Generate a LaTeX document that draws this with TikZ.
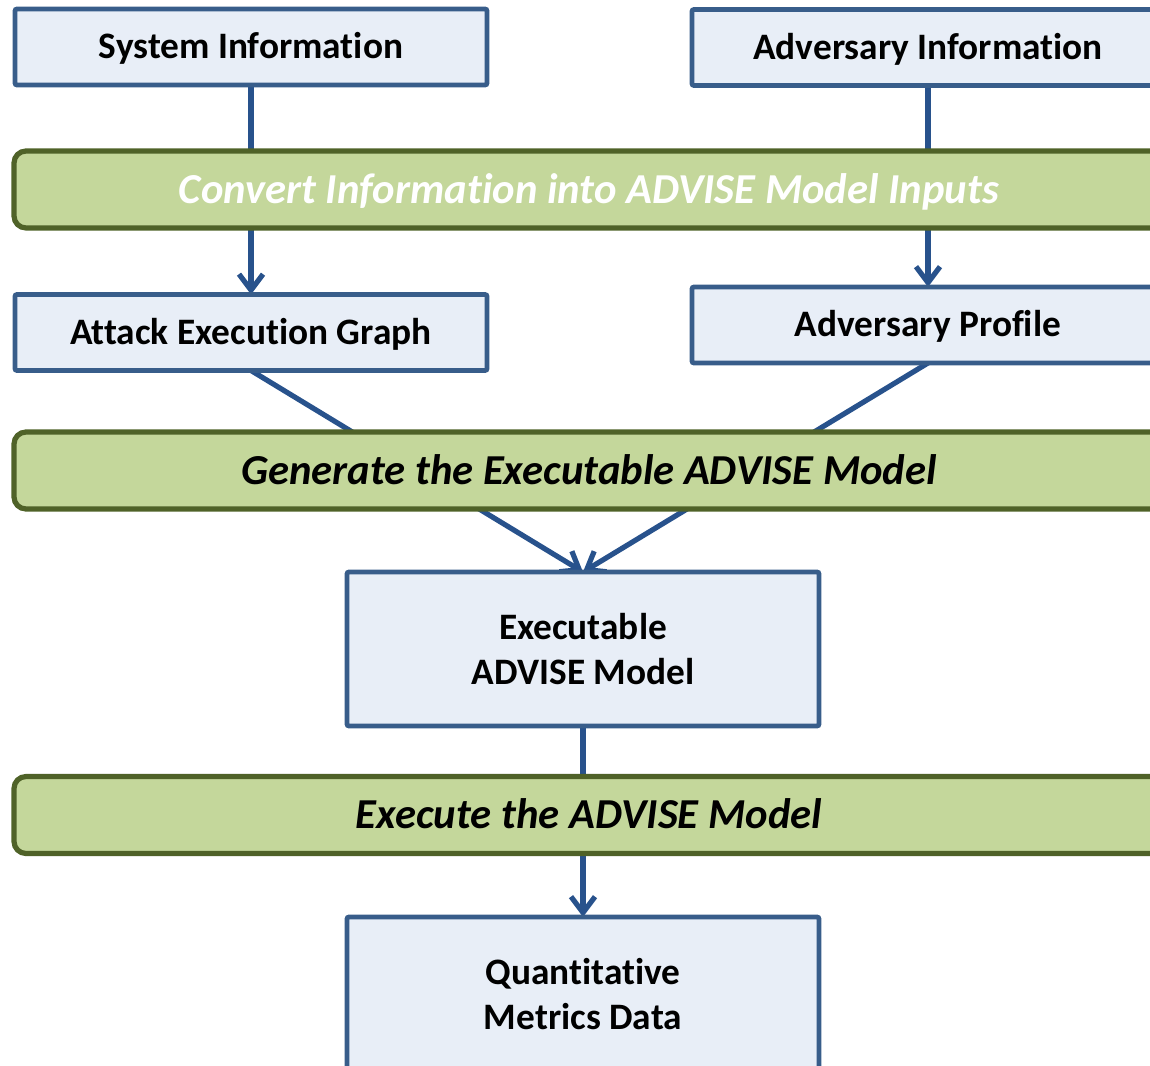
\documentclass[tikz,border=0pt]{standalone}
\usepackage{fontspec}
\setmainfont{Carlito}[RawFeature={-liga;-clig;-dlig}]
\usetikzlibrary{arrows.meta}
\pgfdeclarelayer{background}
\pgfsetlayers{background,main}
\definecolor{boxfill}{RGB}{232,238,247}
\definecolor{boxline}{RGB}{56,93,138}
\definecolor{barfill}{RGB}{196,215,155}
\definecolor{barline}{RGB}{79,98,40}
\definecolor{conn}{RGB}{40,82,140}
\tikzset{
  boxbase/.style={draw=boxline, fill=boxfill, line width=3.6pt, rounded corners=1.5pt,
    minimum width=354pt, inner sep=0pt, outer sep=0pt,
    font=\fontsize{28}{34}\selectfont\bfseries},
  infobox/.style={boxbase, minimum height=57pt, text height=18pt, text depth=0pt},
  tallbox/.style={boxbase, minimum height=115.5pt, align=center},
  stagebar/.style={draw=barline, fill=barfill, line width=3.9pt, rounded corners=9pt,
    minimum width=862.5pt, minimum height=57.75pt, inner sep=0pt, outer sep=0pt,
    text height=20.6pt, text depth=0pt,
    font=\fontsize{32}{36}\selectfont\bfseries\itshape},
  conn/.style={draw=conn, line width=3.9pt, line cap=round,
    -{Straight Barb[length=12pt,width=18pt,line width=3.9pt]}}
}
\begin{document}
\begin{tikzpicture}[x=0.75pt,y=-0.75pt]
\useasboundingbox (0,0) rectangle (1150,1066);
\node[infobox] (sys) at (251,47) {System Information};
\node[infobox] (adv) at (928,47.5) {Adversary Information};
\node[stagebar, text=white] (conv) at (589,189.5) {Convert Information into ADVISE Model Inputs};
\node[infobox] (aeg) at (251,332.5) {Attack Execution Graph};
\node[infobox] (prof) at (928,325) {Adversary Profile};
\node[stagebar] (gen) at (589,470.5) {Generate the Executable ADVISE Model};
\node[tallbox] (exec) at (583,649) {Executable\\ADVISE Model};
\node[stagebar] (run) at (589,815) {Execute the ADVISE Model};
\node[tallbox] (quant) at (583,994) {Quantitative\\Metrics Data};
\begin{pgfonlayer}{background}
\draw[conn] (sys.south) -- (aeg.north);
\draw[conn] (adv.south) -- (prof.north);
\draw[conn] (aeg.south) -- (exec.north);
\draw[conn] (prof.south) -- (exec.north);
\draw[conn] (exec.south) -- (quant.north);
\end{pgfonlayer}
\end{tikzpicture}
\end{document}
